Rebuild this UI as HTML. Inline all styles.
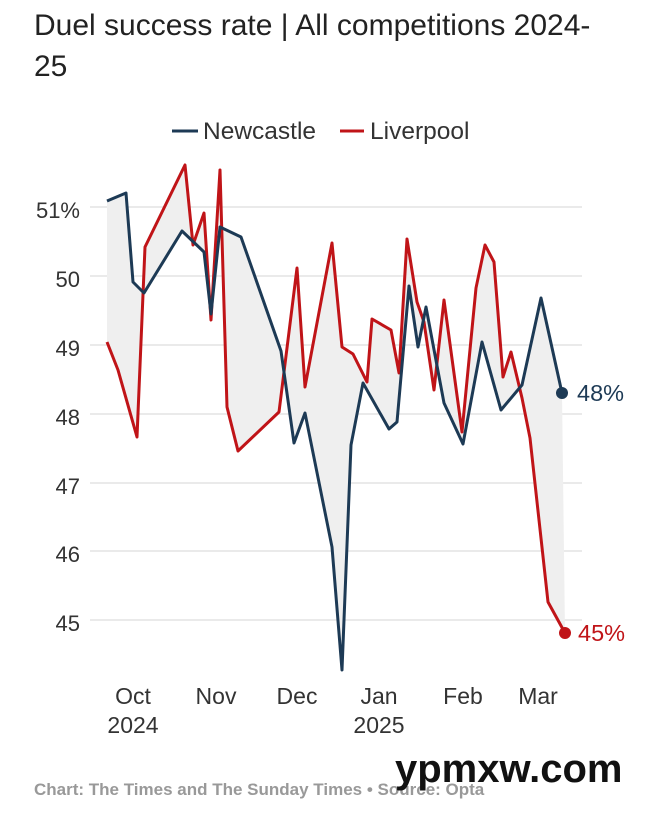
<!DOCTYPE html>
<html><head><meta charset="utf-8"><style>
body{margin:0;background:#fff;width:660px;height:811px;overflow:hidden;font-family:"Liberation Sans",sans-serif;}
</style></head><body>
<svg width="660" height="811" xmlns="http://www.w3.org/2000/svg" font-family="Liberation Sans, sans-serif">
<text x="34" y="35" font-size="30" fill="#222">Duel success rate | All competitions 2024-</text>
<text x="34" y="76" font-size="30" fill="#222">25</text>
<line x1="172" y1="131" x2="198" y2="131" stroke="#1d3a55" stroke-width="3"/>
<text x="203" y="139" font-size="24.5" fill="#333">Newcastle</text>
<line x1="340" y1="131" x2="364" y2="131" stroke="#c01418" stroke-width="3"/>
<text x="370" y="139" font-size="24.5" fill="#333">Liverpool</text>
<g stroke="#e4e4e4" stroke-width="1.5">
<line x1="90" x2="582" y1="207" y2="207"/><line x1="90" x2="582" y1="276" y2="276"/>
<line x1="90" x2="582" y1="345" y2="345"/><line x1="90" x2="582" y1="414" y2="414"/>
<line x1="90" x2="582" y1="483" y2="483"/><line x1="90" x2="582" y1="551" y2="551"/>
<line x1="90" x2="582" y1="620" y2="620"/>
</g>
<g font-size="22" fill="#333" text-anchor="end">
<text x="80" y="218">51%</text><text x="80" y="287">50</text><text x="80" y="356">49</text>
<text x="80" y="425">48</text><text x="80" y="494">47</text><text x="80" y="562">46</text><text x="80" y="631">45</text>
</g>
<polygon fill="#efefef" fill-rule="evenodd" points="107,201 126,193 133,282 144,293 182,231 204,252 211,314 220,227 241,237 281,351 294,443 305,413 332,547 342,670 351,445 363,383 389,429 397,422 409,286 418,347 426,307 444,403 463,444 482,342 501,410 522,385 541,298 562,393 565,633 548,602 530,438 522,398 511,352 503,377 494,262 485,245 476,288 462,432 444,300 434,390 424,322 417,302 407,239 399,373 391,330 372,319 367,382 353,354 342,347 332,243 305,387 297,268 279,412 238,451 227,407 220,170 211,320 204,213 193,245 185,165 145,247 137,437 118,370 107,342"/>
<polyline fill="none" stroke="#c01418" stroke-width="3" stroke-linejoin="round" points="107,342 118,370 137,437 145,247 185,165 193,245 204,213 211,320 220,170 227,407 238,451 279,412 297,268 305,387 332,243 342,347 353,354 367,382 372,319 391,330 399,373 407,239 417,302 424,322 434,390 444,300 462,432 476,288 485,245 494,262 503,377 511,352 522,398 530,438 548,602 565,633"/>
<polyline fill="none" stroke="#1d3a55" stroke-width="3" stroke-linejoin="round" points="107,201 126,193 133,282 144,293 182,231 204,252 211,314 220,227 241,237 281,351 294,443 305,413 332,547 342,670 351,445 363,383 389,429 397,422 409,286 418,347 426,307 444,403 463,444 482,342 501,410 522,385 541,298 562,393"/>
<circle cx="562" cy="393" r="6" fill="#1d3a55"/>
<circle cx="565" cy="633" r="6" fill="#c01418"/>
<text x="577" y="401" font-size="23.5" fill="#1d3a55">48%</text>
<text x="578" y="641" font-size="23.5" fill="#c01418">45%</text>
<g font-size="23" fill="#333" text-anchor="middle">
<text x="133" y="704">Oct</text><text x="133" y="733">2024</text>
<text x="216" y="704">Nov</text><text x="297" y="704">Dec</text>
<text x="379" y="704">Jan</text><text x="379" y="733">2025</text>
<text x="463" y="704">Feb</text><text x="538" y="704">Mar</text>
</g>
<text x="34" y="795" font-size="17" font-weight="bold" fill="#999">Chart: The Times and The Sunday Times • Source: Opta</text>
<text x="395" y="782" font-size="40" font-weight="bold" fill="#111">ypmxw.com</text>
</svg>
</body></html>
